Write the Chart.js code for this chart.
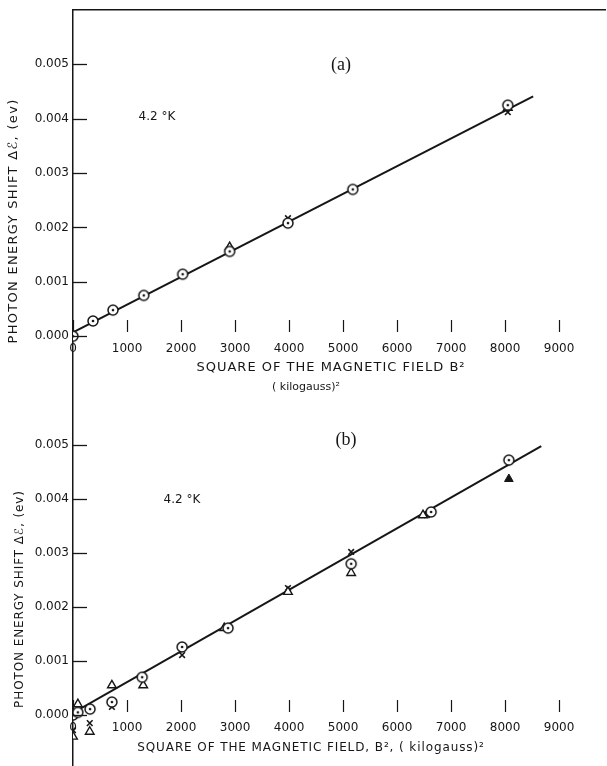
<!DOCTYPE html>
<html>
<head>
<meta charset="utf-8">
<script src="https://cdn.jsdelivr.net/npm/chart.js@4.4.1/dist/chart.umd.min.js"></script>
<style>
  html, body { margin: 0; padding: 0; background: #fff; }
  canvas { display: block; }
</style>
</head>
<body>
<canvas id="chartA" width="607" height="396"></canvas>
<canvas id="chartB" width="607" height="370"></canvas>
<script>
// Photon energy shift vs B^2, two panels

var X_TICKS = [0, 1000, 2000, 3000, 4000, 5000, 6000, 7000, 8000, 9000];
var X_TICK_LABELS = ['0', '1000', '2000', '3000', '4000', '5000', '6000', '7000', '8000', '9000'];
var Y_TICKS = [0, 0.001, 0.002, 0.003, 0.004, 0.005];
var Y_TICK_LABELS = ['0.000', '0.001', '0.002', '0.003', '0.004', '0.005'];

// panel (a)
var A_CIRCLE_X = [0, 370, 740, 1310, 2030, 2900, 3980, 5180, 8050];
var A_CIRCLE_Y = [0.0000, 0.00028, 0.00048, 0.00075, 0.00114, 0.00156, 0.00208, 0.00270, 0.00425];
var A_TRI_X = [2900, 8050];
var A_TRI_Y = [0.00164, 0.00420];
var A_CROSS_X = [3980, 5180, 8050];
var A_CROSS_Y = [0.00217, 0.00270, 0.00412];
var A_FIT_X = [0, 8520];
var A_FIT_Y = [0.00007, 0.00441];

// panel (b)
var B_CIRCLE_X = [0, 90, 315, 720, 1280, 2020, 2870, 5150, 6630, 8070];
var B_CIRCLE_Y = [0.0000, 0.00005, 0.00011, 0.00024, 0.00070, 0.00126, 0.00161, 0.00280, 0.00376, 0.00472];
var B_TRI_X = [0, 90, 310, 720, 1300, 2800, 3980, 5150, 6480];
var B_TRI_Y = [-0.00040, 0.00020, -0.00031, 0.00055, 0.00055, 0.00161, 0.00228, 0.00263, 0.00370];
var B_SOLID_TRI_X = [8070];
var B_SOLID_TRI_Y = [0.00437];
var B_CROSS_X = [0, 310, 720, 2020, 3980, 5150, 6550];
var B_CROSS_Y = [-0.00028, -0.00015, 0.00015, 0.00111, 0.00235, 0.00302, 0.00370];
var B_FIT_X = [0, 8670];
var B_FIT_Y = [0.00004, 0.00498];

var INK = '#161616';
var TICK_FONT = { family: 'DejaVu Sans', size: 12 };
// tiny line height so the y labels do not pad the plot area top and bottom
var Y_TICK_FONT = { family: 'DejaVu Sans', size: 12, lineHeight: 0.05 };

function pairs(xs, ys) {
  return xs.map(function (x, i) { return { x: x, y: ys[i] }; });
}

/**
 * Open circle with a dot in the middle, used as a point style.
 */
function makeDotCircle(r) {
  var c = document.createElement('canvas');
  var s = Math.ceil(2 * r + 4);
  c.width = s;
  c.height = s;
  var g = c.getContext('2d');
  g.lineWidth = 1.5;
  g.strokeStyle = INK;
  g.fillStyle = '#fff';
  g.beginPath();
  g.arc(s / 2, s / 2, r, 0, 2 * Math.PI);
  g.fill();
  g.stroke();
  g.beginPath();
  g.arc(s / 2, s / 2, 1.3, 0, 2 * Math.PI);
  g.fillStyle = INK;
  g.fill();
  return c;
}
var DOT_CIRCLE = makeDotCircle(5);

// short tick marks drawn inward from the y axis
var yTickMarks = {
  id: 'yTickMarks',
  afterDraw: function (chart) {
    var ctx = chart.ctx;
    var y = chart.scales.y;
    var left = chart.chartArea.left;
    ctx.save();
    ctx.strokeStyle = INK;
    ctx.lineWidth = 1.3;
    Y_TICKS.forEach(function (v) {
      var py = Math.round(y.getPixelForValue(v)) + 0.5;
      ctx.beginPath();
      ctx.moveTo(left, py);
      ctx.lineTo(left + 14, py);
      ctx.stroke();
    });
    ctx.restore();
  },
};

function makeTextPlugin(id, items) {
  return {
    id: id,
    afterDraw: function (chart) {
      var ctx = chart.ctx;
      items.forEach(function (it) {
        ctx.save();
        ctx.font = it.font;
        ctx.fillStyle = INK;
        ctx.textAlign = 'center';
        ctx.textBaseline = 'middle';
        if ('letterSpacing' in ctx) ctx.letterSpacing = (it.spacing || 0) + 'px';
        ctx.translate(it.x, it.y);
        if (it.rotate) ctx.rotate(it.rotate);
        ctx.fillText(it.text, 0, 0);
        ctx.restore();
      });
    },
  };
}

function markerDatasets(circles, tris, solidTris, crosses, fit) {
  var ds = [
    { data: circles, pointStyle: DOT_CIRCLE, pointRadius: 5, order: 1 },
    { data: tris, pointStyle: 'triangle', pointRadius: 5, backgroundColor: '#fff', borderColor: INK, pointBorderWidth: 1.4, order: 1 },
    { data: crosses, pointStyle: 'crossRot', pointRadius: 4, borderColor: INK, pointBorderWidth: 1.6, order: 1 },
    { data: fit, showLine: true, pointRadius: 0, borderColor: INK, borderWidth: 2, order: 2 },
  ];
  if (solidTris) {
    ds.push({ data: solidTris, pointStyle: 'triangle', pointRadius: 5, backgroundColor: INK, borderColor: INK, pointBorderWidth: 1, order: 1 });
  }
  return ds;
}

function makeScales(yMin, yMax, xAxisAt, withTopBorder) {
  var scales = {
    x: {
      type: 'linear',
      min: 0,
      max: 9850,
      position: { y: xAxisAt },
      border: { display: false },
      grid: { display: true, drawOnChartArea: false, drawTicks: true, tickLength: 12, tickWidth: 1.2, tickColor: INK },
      ticks: {
        padding: 9,
        color: INK,
        font: TICK_FONT,
        maxRotation: 0,
        autoSkip: false,
        callback: function (v, i) { return X_TICK_LABELS[i]; },
      },
      afterBuildTicks: function (scale) {
        scale.ticks = X_TICKS.map(function (v) { return { value: v }; });
      },
    },
    y: {
      type: 'linear',
      min: yMin,
      max: yMax,
      border: { display: true, color: INK, width: 1.5 },
      grid: { display: false, drawTicks: false },
      ticks: {
        padding: 4,
        color: INK,
        font: Y_TICK_FONT,
        callback: function (v, i) { return Y_TICK_LABELS[i]; },
      },
      afterBuildTicks: function (scale) {
        scale.ticks = Y_TICKS.map(function (v) { return { value: v }; });
      },
      afterFit: function (scale) {
        scale.width = 73;
        scale.paddingTop = 0;
        scale.paddingBottom = 0;
      },
    },
  };
  if (withTopBorder) {
    scales.xTop = {
      type: 'linear',
      position: 'top',
      min: 0,
      max: 9850,
      border: { display: true, color: INK, width: 1.5 },
      grid: { display: false, drawTicks: false },
      ticks: { display: false },
      afterFit: function (scale) { scale.height = 0; },
    };
  }
  return scales;
}

function baseOptions(scales, padTop) {
  return {
    responsive: false,
    animation: false,
    layout: { autoPadding: false, padding: { top: padTop, right: 2, left: 0, bottom: 0 } },
    plugins: { legend: { display: false }, tooltip: { enabled: false } },
    scales: scales,
  };
}

var Y_TITLE = 'PHOTON ENERGY SHIFT \u0394\u2130, (ev)';

new Chart(document.getElementById('chartA'), {
  type: 'scatter',
  data: {
    datasets: markerDatasets(
      pairs(A_CIRCLE_X, A_CIRCLE_Y),
      pairs(A_TRI_X, A_TRI_Y),
      null,
      pairs(A_CROSS_X, A_CROSS_Y),
      pairs(A_FIT_X, A_FIT_Y)
    ),
  },
  options: baseOptions(makeScales(-0.0011, 0.006, 0.00029, true), 10),
  plugins: [yTickMarks, makeTextPlugin('textA', [
    { text: '(a)', x: 341, y: 65, font: '18px "Liberation Serif"' },
    { text: '4.2 \u00b0K', x: 157, y: 117, font: '12px "DejaVu Sans"' },
    { text: Y_TITLE, x: 14, y: 221, font: '13px "DejaVu Sans"', spacing: 1.3, rotate: -Math.PI / 2 },
    { text: 'SQUARE OF THE MAGNETIC FIELD B\u00b2', x: 331, y: 368, font: '13px "DejaVu Sans"', spacing: 1 },
    { text: '( kilogauss)\u00b2', x: 306, y: 387, font: '11px "DejaVu Sans"' },
  ])],
});

new Chart(document.getElementById('chartB'), {
  type: 'scatter',
  data: {
    datasets: markerDatasets(
      pairs(B_CIRCLE_X, B_CIRCLE_Y),
      pairs(B_TRI_X, B_TRI_Y),
      pairs(B_SOLID_TRI_X, B_SOLID_TRI_Y),
      pairs(B_CROSS_X, B_CROSS_Y),
      pairs(B_FIT_X, B_FIT_Y)
    ),
  },
  options: baseOptions(makeScales(-0.000944, 0.005907, 0.00028, false), 0),
  plugins: [yTickMarks, makeTextPlugin('textB', [
    { text: '(b)', x: 346, y: 44, font: '18px "Liberation Serif"' },
    { text: '4.2 \u00b0K', x: 182, y: 104, font: '12px "DejaVu Sans"' },
    { text: Y_TITLE, x: 20, y: 203, font: '12px "DejaVu Sans"', spacing: 0.9, rotate: -Math.PI / 2 },
    { text: 'SQUARE OF THE MAGNETIC FIELD, B\u00b2, ( kilogauss)\u00b2', x: 311, y: 352, font: '12px "DejaVu Sans"', spacing: 0.9 },
  ])],
});
</script>
</body>
</html>
